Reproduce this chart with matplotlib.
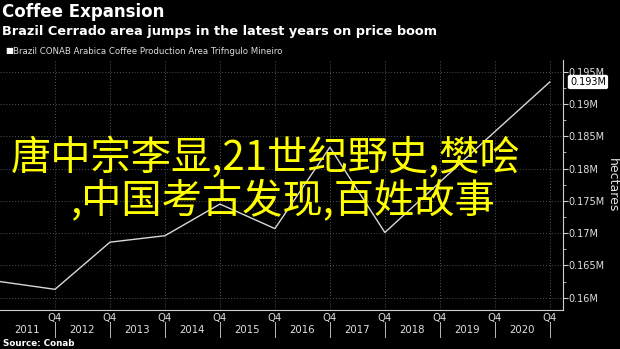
import matplotlib.pyplot as plt
from matplotlib.ticker import FixedLocator, FuncFormatter, MultipleLocator
import matplotlib.transforms as mtransforms

# Q4 of each year, area in million hectares
years = [2010, 2011, 2012, 2013, 2014, 2015, 2016, 2017, 2018, 2019, 2020]
area = [0.1625, 0.1613, 0.1686, 0.1696, 0.1745, 0.1707, 0.1833, 0.1701, 0.1779, 0.1857, 0.1934]
year_labels = ["2011", "2012", "2013", "2014", "2015", "2016", "2017", "2018", "2019", "2020"]
last_label = "0.193M"

W, H = 620, 349
fig = plt.figure(figsize=(6.2, 3.49), dpi=100, facecolor="black")
ax = fig.add_axes([0, (H - 310) / H, 563 / W, 250 / H], facecolor="black")

x = [y - 2010 for y in years]
ax.plot(x, area, color="#d8d8d8", lw=1.0)

ax.set_xlim(0, 10.24)
ax.set_ylim(0.1581, 0.1968)

# =====================================
# Axes styling
# =====================================
for side in ["top", "left"]:
    ax.spines[side].set_visible(False)
ax.spines["right"].set_color("#cfcfcf")
ax.spines["bottom"].set_color("#cfcfcf")

ax.yaxis.tick_right()
ax.yaxis.set_major_locator(MultipleLocator(0.005))
ax.yaxis.set_minor_locator(MultipleLocator(0.0025))
ax.yaxis.set_major_formatter(FuncFormatter(lambda v, p: f"{v:.3f}".rstrip("0") + "M"))
ax.tick_params(axis="y", which="major", colors="#cfcfcf", labelcolor="#e0e0e0",
               labelsize=7, length=3.5, pad=0.5)
ax.tick_params(axis="y", which="minor", colors="#cfcfcf", length=2.5)

ax.xaxis.set_major_locator(FixedLocator(range(1, 11)))
ax.set_xticklabels(["Q4"] * 10)
ax.tick_params(axis="x", colors="#cfcfcf", labelcolor="#e0e0e0", labelsize=7.3,
               length=0, pad=2)

ax.grid(True, which="major", color="#555555", linestyle=(0, (1, 2)), lw=0.7)

# year labels and separators under the axis
trans = mtransforms.blended_transform_factory(ax.transData, ax.transAxes)
for i, lab in enumerate(year_labels):
    ax.text(i + 0.5, -0.08, lab, transform=trans, ha="center", va="center",
            color="#e0e0e0", fontsize=7.3)
    ax.plot([i + 1, i + 1], [-0.048, -0.108], transform=trans, color="#bbbbbb",
            lw=0.7, clip_on=False)

# last value tag
ax.annotate(last_label, xy=(1.0, area[-1]), xycoords=("axes fraction", "data"),
            xytext=(5, 0), textcoords="offset points", va="center", ha="left",
            fontsize=7, color="black",
            bbox=dict(boxstyle="round,pad=0.15", fc="white", ec="white"))

fig.text(612 / W, 1 - 185 / H, "hectares", rotation=270, ha="center", va="center",
         color="#e0e0e0", fontsize=9)

# =====================================
# Titles and notes
# =====================================
fig.text(2 / W, 1 - 12 / H, "Coffee Expansion", color="white", fontsize=12,
         fontweight="bold", va="center")
fig.text(2 / W, 1 - 31 / H, "Brazil Cerrado area jumps in the latest years on price boom",
         color="white", fontsize=9.3, fontweight="bold", va="center")
fig.text(5 / W, 1 - 51 / H, "\u25a0", color="white", fontsize=6, va="center")
fig.text(13 / W, 1 - 51 / H, "Brazil CONAB Arabica Coffee Production Area Trifngulo Mineiro",
         color="#dddddd", fontsize=6.2, va="center")
fig.text(3 / W, 1 - 343 / H, "Source: Conab", color="white", fontsize=6.3,
         fontweight="bold", va="center")

# overlay text
cjk = ["Noto Sans CJK SC", "DejaVu Sans"]
fig.text(266 / W, 1 - 158 / H, "唐中宗李显,21世纪野史,樊哙", color="#ffff00",
         fontsize=29, family=cjk, fontweight="medium", ha="center", va="center")
fig.text(283 / W, 1 - 201 / H, ",中国考古发现,百姓故事", color="#ffff00",
         fontsize=29, family=cjk, fontweight="medium", ha="center", va="center")

fig.savefig("out.png", dpi=100, facecolor="black")
